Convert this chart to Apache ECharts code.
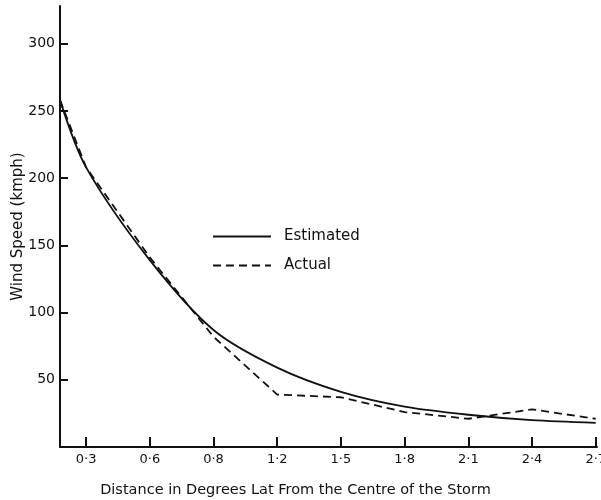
<!DOCTYPE html>
<html>
<head>
<meta charset="utf-8">
<script src="https://cdn.jsdelivr.net/npm/echarts@6/dist/echarts.min.js"></script>
<style>html,body{margin:0;padding:0;background:#fff;}#c{width:601px;height:500px;}</style>
</head>
<body>
<div id="c"></div>
<script>
// Tick labels (distance, degrees lat) - evenly spaced on the original axis
var distanceLabels = ['0·3','0·6','0·8','1·2','1·5','1·8','2·1','2·4','2·7'];
// Position of each data point in tick units (first point sits at the axis origin)
var pointPos = [-0.41, 0, 1, 2, 3, 4, 5, 6, 7, 8];
// Wind speed (kmph)
var estimated = [258, 208, 139, 87, 59, 41, 30, 24, 20, 18];
var actual    = [258, 208, 141, 82, 39, 37, 26, 21, 28, 21];
var yTicks = [50, 100, 150, 200, 250, 300];

var chart = echarts.init(document.getElementById('c'));
var font = 'DejaVu Sans';
var ink = '#111';
function pairs(vals){ return vals.map(function(v,i){ return [pointPos[i], v]; }); }
chart.setOption({
  animation: false,
  backgroundColor: '#fff',
  textStyle: { fontFamily: font, color: ink },
  grid: { left: 60, right: 4, top: 6, bottom: 53, containLabel: false, outerBoundsMode: 'none' },
  legend: {
    orient: 'vertical', left: 207, top: 224,
    itemWidth: 58, itemHeight: 14, itemGap: 14,
    itemStyle: { opacity: 0 },
    textStyle: { fontFamily: font, fontSize: 15, fontWeight: 500, color: ink, padding: [0,0,0,8] },
    data: ['Estimated', 'Actual']
  },
  xAxis: {
    type: 'value', min: -0.41, max: 8.02,
    name: 'Distance in Degrees Lat From the Centre of the Storm',
    nameLocation: 'middle', nameGap: 36, nameMoveOverlap: false,
    nameTextStyle: { fontFamily: font, fontSize: 14.5, color: ink, padding: [0, 66, 0, 0] },
    splitLine: { show: false },
    axisLine: { onZero: false, lineStyle: { color: ink, width: 2 } },
    axisTick: { show: true, inside: true, length: 10, lineStyle: { color: ink, width: 2 }, customValues: distanceLabels.map(function(_, i){ return i; }) },
    axisLabel: { fontFamily: font, fontSize: 13, color: ink, margin: 6, customValues: distanceLabels.map(function(_, i){ return i; }),
      formatter: function(v){ return distanceLabels[Math.round(v)]; } }
  },
  yAxis: {
    type: 'value', min: 0, max: 328,
    name: 'Wind Speed (kmph)',
    nameLocation: 'middle', nameGap: 34, nameRotate: 90, nameMoveOverlap: false,
    nameTextStyle: { fontFamily: font, fontSize: 15, color: ink },
    splitLine: { show: false },
    axisLine: { show: true, onZero: false, lineStyle: { color: ink, width: 2 } },
    axisTick: { show: true, inside: true, length: 8, lineStyle: { color: ink, width: 2 }, customValues: yTicks },
    axisLabel: { fontFamily: font, fontSize: 14, color: ink, margin: 5, customValues: yTicks }
  },
  series: [
    { name: 'Estimated', type: 'line', data: pairs(estimated), symbol: 'none', smooth: 0.3,
      lineStyle: { color: ink, width: 1.8 }, itemStyle: { color: ink } },
    { name: 'Actual', type: 'line', data: pairs(actual), symbol: 'none',
      lineStyle: { color: ink, width: 1.8, type: [8, 5] }, itemStyle: { color: ink } }
  ]
});
</script>
</body>
</html>
